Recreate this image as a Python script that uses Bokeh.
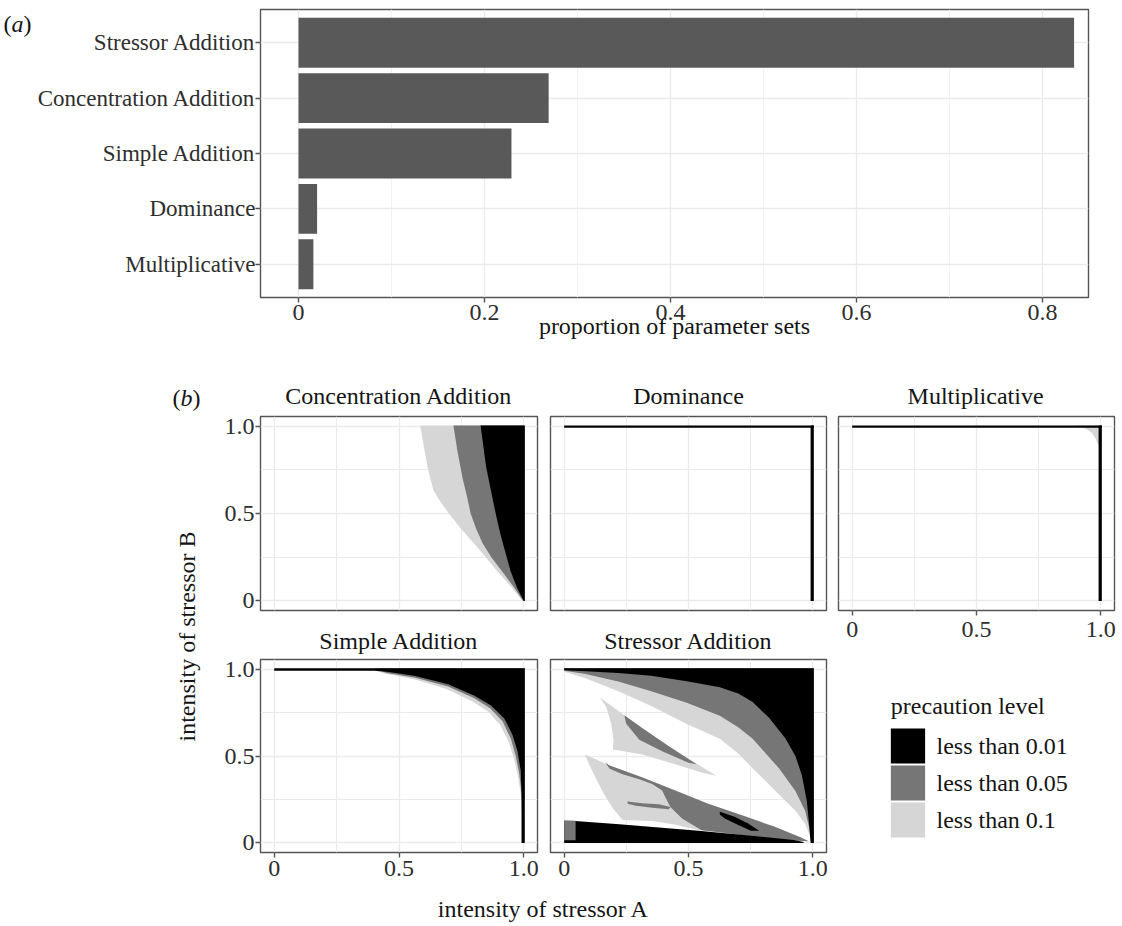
import math
from bokeh.plotting import figure
from bokeh.layouts import row, column
from bokeh.models import ColumnDataSource, FactorRange, Range1d, FixedTicker, Label
from bokeh.transform import factor_cmap
from bokeh.embed import file_html
from bokeh.resources import INLINE

# ---------------- data: panel (a) ----------------
models = ["Multiplicative", "Dominance", "Simple Addition",
          "Concentration Addition", "Stressor Addition"]
proportions = [0.016, 0.020, 0.229, 0.269, 0.834]
prop_ticks = [0, 0.2, 0.4, 0.6, 0.8]
prop_tick_labels = ["0", "0.2", "0.4", "0.6", "0.8"]

# ---------------- data: panel (b) ----------------
intensity_ticks = [0, 0.5, 1.0]
intensity_tick_labels = ["0", "0.5", "1.0"]
levels = ["less than 0.01", "less than 0.05", "less than 0.1"]
level_colors = ["#000000", "#767676", "#d6d6d6"]

# region outlines, (intensity of stressor A, intensity of stressor B)
ca_light = [(0.585, 1.004), (1.004, 1.004), (1.004, 0.0), (0.995, 0.0), (0.95, 0.08), (0.90, 0.16),
            (0.85, 0.245), (0.80, 0.33), (0.75, 0.41), (0.70, 0.50), (0.66, 0.58), (0.638, 0.633),
            (0.615, 0.76), (0.60, 0.88)]
ca_dark = [(0.718, 1.004), (1.004, 1.004), (1.004, 0.0), (0.998, 0.0), (0.96, 0.08), (0.915, 0.165),
           (0.87, 0.25), (0.835, 0.33), (0.81, 0.41), (0.787, 0.50), (0.772, 0.60), (0.755, 0.70),
           (0.735, 0.85)]
ca_black = [(0.827, 1.004), (1.004, 1.004), (1.004, 0.0), (1.0, 0.0), (0.975, 0.07), (0.948, 0.166),
            (0.922, 0.30), (0.905, 0.39), (0.889, 0.49), (0.87, 0.62), (0.849, 0.768)]

dom_top = [(0.0, 0.99), (1.004, 0.99), (1.004, 1.004), (0.0, 1.004)]
dom_right = [(0.991, 0.0), (1.004, 0.0), (1.004, 1.004), (0.991, 1.004)]

mul_light = [(0.90, 1.004), (1.004, 1.004), (1.004, 0.88), (0.99, 0.89), (0.98, 0.925),
             (0.965, 0.96), (0.94, 0.985)]
mul_top = [(0.0, 0.99), (1.004, 0.99), (1.004, 1.004), (0.0, 1.004)]
mul_right = [(0.991, 0.0), (1.004, 0.0), (1.004, 1.004), (0.991, 1.004)]

sa_light = [(0.38, 1.004), (1.004, 1.004), (1.004, 0.18), (0.991, 0.18), (0.988, 0.28), (0.977, 0.38),
            (0.962, 0.48), (0.94, 0.58), (0.905, 0.68), (0.858, 0.755), (0.793, 0.815), (0.69, 0.885),
            (0.565, 0.94), (0.50, 0.958), (0.44, 0.975)]
sa_dark = [(0.40, 1.004), (1.004, 1.004), (1.004, 0.25), (0.991, 0.25), (0.99, 0.30), (0.982, 0.40),
           (0.968, 0.50), (0.948, 0.60), (0.915, 0.70), (0.865, 0.775), (0.80, 0.833), (0.697, 0.90),
           (0.565, 0.95), (0.50, 0.966), (0.45, 0.978)]
sa_black = [(0.0, 1.004), (1.004, 1.004), (1.004, 0.0), (0.991, 0.0), (0.991, 0.28), (0.988, 0.414),
            (0.975, 0.527), (0.955, 0.621), (0.922, 0.716), (0.869, 0.79), (0.803, 0.847),
            (0.697, 0.913), (0.565, 0.96), (0.50, 0.975), (0.45, 0.984), (0.40, 0.99), (0.0, 0.99)]

st_light_band = [(0.0, 1.004), (1.004, 1.004), (1.004, 0.0), (0.995, 0.0), (0.985, 0.053),
                 (0.969, 0.109), (0.930, 0.185), (0.864, 0.279), (0.758, 0.429), (0.70, 0.515),
                 (0.626, 0.599), (0.493, 0.684), (0.350, 0.787), (0.218, 0.872), (0.086, 0.947),
                 (0.0, 0.985)]
st_dark_band = [(0.0, 1.004), (1.004, 1.004), (1.004, 0.0), (0.996, 0.0), (0.985, 0.09),
                (0.969, 0.185), (0.930, 0.298), (0.864, 0.429), (0.758, 0.599), (0.70, 0.665),
                (0.626, 0.731), (0.493, 0.806), (0.350, 0.872), (0.218, 0.928), (0.086, 0.972),
                (0.0, 0.99)]
st_black_band = [(0.0, 1.004), (1.004, 1.004), (1.004, 0.0), (0.991, 0.0), (0.985, 0.11),
                 (0.976, 0.24), (0.956, 0.39), (0.93, 0.50), (0.89, 0.60), (0.824, 0.72),
                 (0.758, 0.81), (0.70, 0.86), (0.626, 0.895), (0.493, 0.93), (0.35, 0.962),
                 (0.218, 0.977), (0.086, 0.987), (0.0, 0.993)]
st_leaf_light = [(0.143, 0.838), (0.242, 0.734), (0.315, 0.659), (0.421, 0.556), (0.533, 0.455),
                 (0.612, 0.386), (0.553, 0.405), (0.447, 0.452), (0.315, 0.508), (0.196, 0.537),
                 (0.198, 0.593), (0.189, 0.687), (0.169, 0.782)]
st_leaf_dark = [(0.242, 0.734), (0.315, 0.659), (0.421, 0.556), (0.533, 0.452), (0.50, 0.461),
                (0.394, 0.527), (0.302, 0.593), (0.249, 0.687)]
st_low_light = [(0.083, 0.508), (0.183, 0.446), (0.315, 0.377), (0.447, 0.301), (0.579, 0.226),
                (0.712, 0.160), (0.844, 0.094), (0.950, 0.032), (0.983, 0.009), (0.870, 0.017),
                (0.765, 0.036), (0.659, 0.056), (0.540, 0.075), (0.447, 0.104), (0.354, 0.126),
                (0.235, 0.132), (0.196, 0.198), (0.156, 0.292), (0.116, 0.405)]
st_low_dark = [(0.165, 0.462), (0.183, 0.446), (0.315, 0.377), (0.447, 0.301), (0.579, 0.226),
               (0.712, 0.160), (0.844, 0.094), (0.950, 0.032), (0.983, 0.009), (0.870, 0.017),
               (0.765, 0.036), (0.659, 0.056), (0.553, 0.073), (0.474, 0.141), (0.427, 0.207),
               (0.410, 0.254), (0.394, 0.301), (0.354, 0.339), (0.302, 0.367), (0.235, 0.395),
               (0.183, 0.427)]
st_low_curve = [(0.255, 0.239), (0.315, 0.228), (0.381, 0.222), (0.427, 0.207), (0.421, 0.194),
                (0.354, 0.203), (0.288, 0.214), (0.255, 0.226)]
st_eye = [(0.626, 0.179), (0.685, 0.151), (0.738, 0.113), (0.784, 0.070), (0.751, 0.070),
          (0.698, 0.104), (0.646, 0.141), (0.626, 0.164)]
st_bottom = [(0.0, 0.0), (0.963, 0.0), (0.963, 0.006), (0.923, 0.017), (0.844, 0.028),
             (0.712, 0.047), (0.540, 0.070), (0.381, 0.089), (0.222, 0.107), (0.044, 0.126),
             (0.0, 0.126)]
st_corner = [(0.0, 0.015), (0.046, 0.015), (0.046, 0.128), (0.0, 0.13)]

L01, L05, L10 = levels
concentration_regions = [(L10, ca_light), (L05, ca_dark), (L01, ca_black)]
dominance_regions = [(L01, dom_top), (L01, dom_right)]
multiplicative_regions = [(L10, mul_light), (L01, mul_top), (L01, mul_right)]
simple_regions = [(L10, sa_light), (L05, sa_dark), (L01, sa_black)]
stressor_regions = [(L10, st_light_band), (L05, st_dark_band), (L01, st_black_band),
                    (L10, st_leaf_light), (L05, st_leaf_dark),
                    (L10, st_low_light), (L05, st_low_dark), (L05, st_low_curve),
                    (L01, st_eye), (L01, st_bottom), (L05, st_corner)]

# ---------------- styling ----------------
FONT = "Liberation Serif"
FS = "24px"
TXT = "#141414"
TICK_TXT = "#2e2e2e"
BORDER = "#555555"
GRID = "#ebebeb"
GRID_MINOR = "#f2f2f2"


def style_axis(ax, standoff=1):
    ax.axis_line_color = None
    ax.major_tick_line_color = BORDER
    ax.major_tick_line_width = 1.4
    ax.major_tick_out = 5
    ax.major_tick_in = 0
    ax.minor_tick_line_color = None
    ax.major_label_text_font = FONT
    ax.major_label_text_font_size = FS
    ax.major_label_text_color = TICK_TXT
    ax.major_label_standoff = standoff
    ax.axis_label_text_font = FONT
    ax.axis_label_text_font_size = FS
    ax.axis_label_text_font_style = "normal"
    ax.axis_label_text_color = TXT
    ax.axis_label_standoff = 0


def base_fig(p):
    p.outline_line_color = BORDER
    p.outline_line_width = 1.4
    p.background_fill_color = "white"
    p.border_fill_color = "white"


def text_fig(w, h):
    p = figure(width=w, height=h, x_range=Range1d(0, w), y_range=Range1d(0, h),
               min_border=0, x_axis_location=None, y_axis_location=None,
               output_backend="svg", toolbar_location=None)
    p.outline_line_color = None
    p.grid.visible = False
    p.background_fill_color = "white"
    p.border_fill_color = "white"
    return p


def add_text(p, x, y, text, align="center", angle=0.0):
    p.add_layout(Label(x=x, y=y, text=text, angle=angle,
                       text_font=FONT, text_font_size=FS, text_color=TXT,
                       text_align=align, text_baseline="middle"))


def tag(p, x, y, letter):
    # "(a)" style tag with italic letter
    for txt, off, style in [("(", 0, "normal"), (letter, 8.0, "italic"), (")", 20.0, "normal")]:
        p.add_layout(Label(x=x, y=y, text=txt, x_offset=off,
                           text_font=FONT, text_font_size=FS, text_font_style=style,
                           text_color=TXT, text_align="left", text_baseline="middle"))


# ---------------- panel (a) ----------------
HA = 357
TAW = 32
ta = text_fig(TAW, HA)
tag(ta, 3, HA - 18, "a")

src_a = ColumnDataSource(dict(model=models, prop=proportions))
pa = figure(y_range=FactorRange(factors=models, range_padding=0.04),
            x_range=Range1d(-0.04086, 0.8495),
            frame_width=828, frame_height=288,
            min_border_left=260 - TAW, min_border_right=34, min_border_top=9,
            min_border_bottom=HA - 297,
            output_backend="svg", toolbar_location=None)
base_fig(pa)
pa.hbar(y="model", left=0, right="prop", height=0.9, source=src_a,
        fill_color="#595959", line_color=None)
minor_a = [(a + b) / 2 for a, b in zip(prop_ticks[:-1], prop_ticks[1:])]
pa.xaxis.ticker = FixedTicker(ticks=prop_ticks, minor_ticks=minor_a)
pa.xaxis.major_label_overrides = dict(zip(prop_ticks, prop_tick_labels))
pa.xaxis.axis_label = "proportion of parameter sets"
for ax in pa.axis:
    style_axis(ax)
pa.xaxis.major_label_standoff = 2
pa.xaxis.axis_label_standoff = -10
pa.yaxis.major_label_standoff = 0
pa.yaxis.major_label_text_font_size = "23px"
pa.xgrid.grid_line_color = GRID
pa.xgrid.grid_line_width = 1.3
pa.xgrid.minor_grid_line_color = GRID_MINOR
pa.xgrid.minor_grid_line_width = 1.0
pa.ygrid.grid_line_color = GRID
pa.ygrid.grid_line_width = 1.3

# ---------------- panel (b) facets ----------------
minor_b = [(a + b) / 2 for a, b in zip(intensity_ticks[:-1], intensity_ticks[1:])]


def facet(regions, fh, show_x, show_y, bl, br, bt, bb, fw, xstand=3):
    p = figure(frame_width=fw, frame_height=fh,
               x_range=Range1d(-0.055, 1.055), y_range=Range1d(-0.055, 1.055),
               x_axis_location="below" if show_x else None,
               y_axis_location="left" if show_y else None,
               min_border_left=bl, min_border_right=br, min_border_top=bt, min_border_bottom=bb,
               output_backend="svg", toolbar_location=None)
    base_fig(p)
    for g in p.xgrid + p.ygrid:
        g.ticker = FixedTicker(ticks=intensity_ticks, minor_ticks=minor_b)
        g.grid_line_color = GRID
        g.grid_line_width = 1.3
        g.minor_grid_line_color = GRID
        g.minor_grid_line_width = 1.0
    for ax in p.axis:
        ax.ticker = FixedTicker(ticks=intensity_ticks)
        ax.major_label_overrides = dict(zip(intensity_ticks, intensity_tick_labels))
        style_axis(ax)
    for ax in p.xaxis:
        ax.major_label_standoff = xstand
    src = ColumnDataSource(dict(
        xs=[[pt[0] for pt in poly] for _, poly in regions],
        ys=[[pt[1] for pt in poly] for _, poly in regions],
        level=[lv for lv, _ in regions]))
    p.patches("xs", "ys", source=src, line_color=None,
              fill_color=factor_cmap("level", palette=level_colors, factors=levels))
    return p


W1, W2, W3 = 56 + 277 + 6, 7 + 276 + 6, 6 + 276 + 8
TOP_STRIP, MID_STRIP, XT = 57, 44, 34
P3_BOTTOM = 40

p1 = facet(concentration_regions, 194, False, True, 56, 6, 2, 3, 277)
p2 = facet(dominance_regions, 194, False, False, 7, 6, 2, 3, 276)
p3 = facet(multiplicative_regions, 194, True, False, 6, 8, 2, P3_BOTTOM, 276, xstand=6)
p4 = facet(simple_regions, 193, True, True, 56, 6, 2, 36, 277)
p5 = facet(stressor_regions, 193, True, False, 7, 6, 2, 36, 276)

# strip titles
t1 = text_fig(W1, TOP_STRIP); add_text(t1, 56 + 138.5, TOP_STRIP - 38, "Concentration Addition")
t2 = text_fig(W2, TOP_STRIP); add_text(t2, 7 + 138, TOP_STRIP - 38, "Dominance")
t3 = text_fig(W3, TOP_STRIP); add_text(t3, 6 + 138, TOP_STRIP - 38, "Multiplicative")
t4 = text_fig(W1, MID_STRIP); add_text(t4, 56 + 138.5, MID_STRIP - 27, "Simple Addition")
t5 = text_fig(W2, MID_STRIP); add_text(t5, 7 + 138, MID_STRIP - 27, "Stressor Addition")

H_LOW = TOP_STRIP + 199 + MID_STRIP + 231 + XT   # 565

# left strip: (b) tag and y-axis title
pl = text_fig(204, H_LOW)
tag(pl, 172, H_LOW - 40, "b")
add_text(pl, 186, H_LOW - 279, "intensity of stressor B", angle=math.pi / 2)

# bottom strip: x-axis title
px = text_fig(W1 + W2, XT)
add_text(px, 339, XT - 20, "intensity of stressor A")

# legend
H_LEG = H_LOW - TOP_STRIP - (2 + 194 + P3_BOTTOM)
pg = text_fig(W3, H_LEG)
add_text(pg, 55, H_LEG - 55, "precaution level", align="left")
key_top = [H_LEG - 78 - 37 * i for i in range(len(levels))]
leg_src = ColumnDataSource(dict(level=levels, top=key_top, bottom=[t - 35 for t in key_top],
                                left=[55] * len(levels), right=[91] * len(levels)))
pg.quad(left="left", right="right", top="top", bottom="bottom", source=leg_src, line_color=None,
        fill_color=factor_cmap("level", palette=level_colors, factors=levels))
for lv, t in zip(levels, key_top):
    add_text(pg, 103, t - 17.5, lv, align="left")

layout = column(row(ta, pa),
                row(pl,
                    column(row(t1, t2), row(p1, p2), row(t4, t5), row(p4, p5), px),
                    column(t3, p3, pg)))

open("out.html", "w").write(file_html(layout, INLINE))
